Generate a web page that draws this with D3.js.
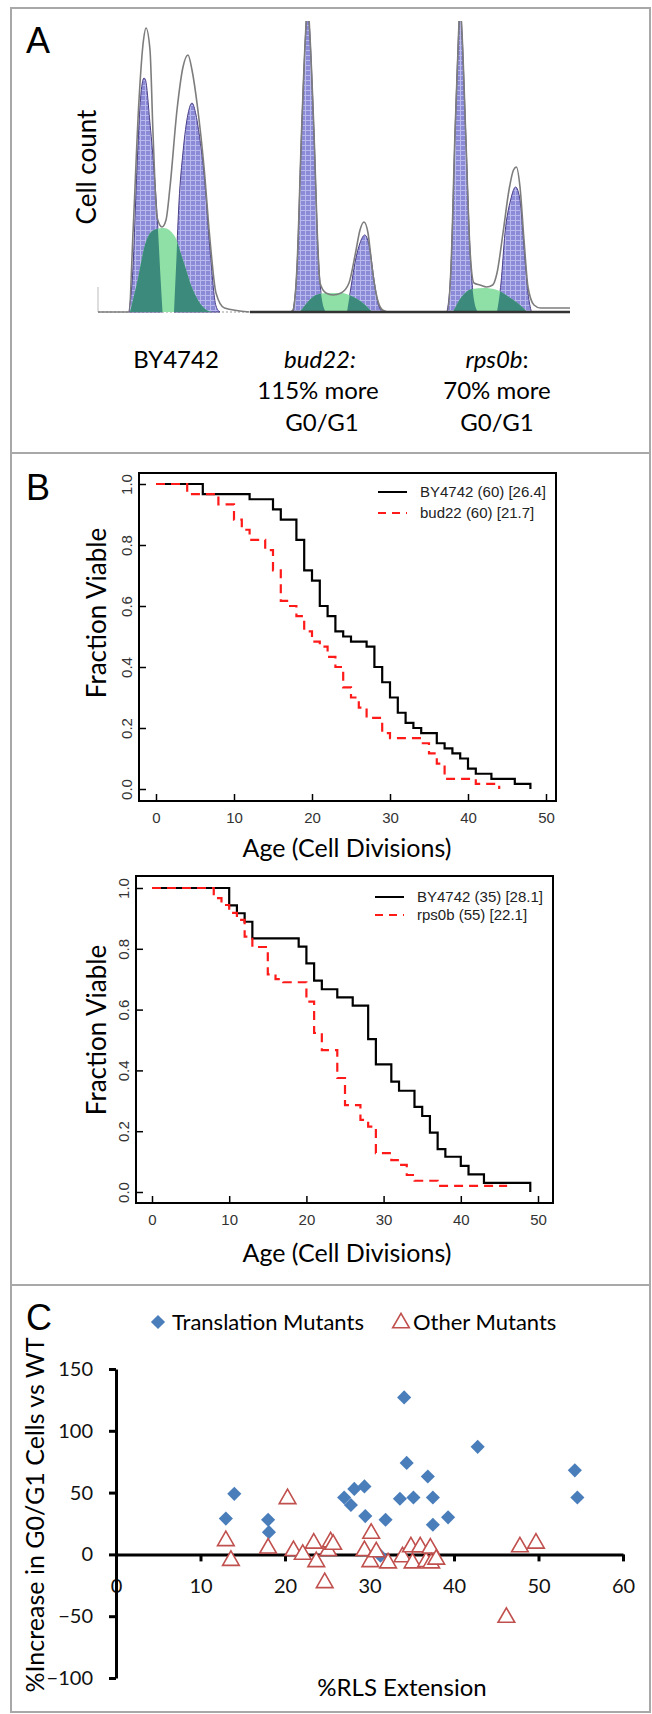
<!DOCTYPE html>
<html>
<head>
<meta charset="utf-8">
<script src="https://cdn.jsdelivr.net/npm/d3@7"></script>
<style>
  body { margin: 0; background: #fff; }
  svg { display: block; }
</style>
</head>
<body>
<svg id="fig" width="652" height="1714"></svg>
<script>
// ---------- Panel A : DNA content histograms (channel, count) ----------
var by4742Envelope = [[0,0],[31,0],[35,79],[41,212],[45.5,272],[48,284],[52,262],[55,179],[59,95],[64,85],[68,92],[72,125],[79,202],[85,245],[90,257],[94,242],[99.5,205],[106,145],[112,72],[118,19],[126.5,4],[151.5,0]];
var by4742G1 = [[31,0],[35,45],[39,145],[43,219],[46,234],[47.5,232],[51.7,192],[55.8,145],[60,82],[62.5,35],[64.5,0]];
var by4742S  = [[32,0],[39,29],[47.5,69],[56,82],[66,84],[76.6,76],[85,52],[95,22],[106,4],[114,0]];
var by4742G2 = [[76,0],[78.5,55],[81,110],[85,160],[90,198],[94,209],[98,197],[102,172],[106,139],[112,62],[118,6],[122,0]];

var bud22Envelope = [[152,0],[192,0],[195,2],[199,45],[203.5,179],[207.6,279],[209.7,310],[211.8,279],[216,179],[220,62],[222,29],[228,19],[235,17],[243,19],[251,29],[257.5,59],[262,82],[266,90],[270,79],[274,45],[278,19],[284.5,2],[291,0],[342,0]];
var bud22G1 = [[195,0],[199,45],[203.5,179],[207.6,279],[209.7,310],[211.8,279],[216,179],[220,62],[224,12],[228,0]];
var bud22S  = [[202,0],[209.7,10],[218,17],[230.5,19],[243,19],[255.4,15],[263.7,10],[274,0]];
var bud22G2 = [[249,0],[253,25],[257.5,52],[262,69],[266.7,77],[272,62],[276,32],[280,9],[284.5,0]];

var rps0bEnvelope = [[342,0],[349,0],[353,45],[357,179],[360.6,279],[362,310],[364,279],[367.7,179],[372,62],[376,29],[382,27],[388.5,25],[394.7,27],[399,39],[405,79],[411,122],[415.5,142],[418.4,145],[422,125],[426,72],[430,25],[436,7],[442.5,4],[472,4]];
var rps0bG1 = [[349,0],[353,45],[357,179],[360.6,279],[362,310],[364,279],[367.7,179],[372,62],[376,12],[380,0]];
var rps0bS  = [[355,0],[363.5,15],[374,23],[386,24],[399,22],[411,15],[422,7],[429,0]];
var rps0bG2 = [[399,0],[403,29],[407,79],[412.6,112],[417.6,125],[422,112],[426,65],[430,19],[433.4,0]];

// ---------- Panel B : survival curves (age, fraction viable) ----------
var bud22PlotWT = [[0,1],[6,0.967],[12,0.95],[15,0.917],[16,0.883],[18,0.817],[19,0.717],[20,0.683],[21,0.6],[22,0.567],[23,0.517],[24,0.5],[25,0.483],[27,0.467],[28,0.4],[29,0.35],[30,0.3],[31,0.25],[32,0.217],[33,0.2],[34,0.183],[36,0.15],[37,0.133],[38,0.117],[39,0.1],[40,0.067],[41,0.05],[43,0.033],[46,0.017],[48,0]];
var bud22PlotMut = [[0,1],[4,0.967],[8,0.933],[10,0.883],[11,0.85],[12,0.817],[14,0.783],[15,0.717],[16,0.617],[17,0.6],[18,0.567],[19,0.517],[20,0.483],[21,0.467],[22,0.433],[23,0.4],[24,0.333],[25,0.3],[26,0.267],[27,0.233],[29,0.183],[30,0.167],[34,0.15],[35,0.117],[36,0.083],[37,0.033],[41,0.017],[44,0]];
var rps0bPlotWT = [[0,1],[10,0.943],[11,0.917],[12,0.889],[13,0.834],[19,0.807],[20,0.752],[21,0.695],[22,0.667],[24,0.64],[26,0.613],[28,0.503],[29,0.42],[31,0.363],[32,0.333],[34,0.28],[35,0.25],[36,0.195],[37,0.141],[38,0.116],[40,0.086],[41,0.058],[43,0.03],[49,0]];
var rps0bPlotMut = [[0,1],[8,0.967],[9,0.944],[10,0.918],[11,0.895],[12,0.84],[13,0.806],[15,0.716],[16,0.7],[17,0.69],[20,0.626],[21,0.523],[22,0.467],[24,0.375],[25,0.286],[27,0.237],[28,0.215],[29,0.128],[31,0.105],[32,0.089],[33,0.056],[34,0.037],[37,0.02],[46,0.02]];
var kmXTicks = [0, 10, 20, 30, 40, 50];
var kmYTicks = [0, 0.2, 0.4, 0.6, 0.8, 1.0];
var bud22Legend = ["BY4742 (60) [26.4]", "bud22 (60) [21.7]"];
var rps0bLegend = ["BY4742 (35) [28.1]", "rps0b (55) [22.1]"];

// ---------- Panel C : scatter (%RLS extension, %increase G0/G1) ----------
var translationMutants = [[13,29],[14,49],[18,28],[18.1,18],[27,46],[27.8,40],[28.2,53],[29.4,55],[29.5,31],[31.3,-1],[31.9,28],[33.6,45],[34.1,127],[34.4,74],[35.2,46],[36.9,63],[37.5,46],[37.5,24],[39.3,30],[42.8,87],[54.3,68],[54.6,46]];
var otherMutants = [[13,11],[13.6,-5],[18,5],[20.3,45],[21,3],[22.1,0],[23.4,9],[23.7,-6],[24.7,-23],[25.1,3],[25.4,10],[25.7,8],[29.4,3],[30.2,17],[30.1,-6],[30.8,2],[32.2,-7],[33.9,-2],[34.9,6],[35.1,-7],[36,6],[36.7,-6],[37.2,5],[37.3,-7],[37.9,-4],[46.2,-51],[47.8,6],[49.7,9]];
var cXTicks = [0, 10, 20, 30, 40, 50, 60];
var cYTicks = [-100, -50, 0, 50, 100, 150];

var svg = d3.select("#fig");
var defs = svg.append("defs");
var sans = "Lato, 'Open Sans', sans-serif";
var arial = "'Liberation Sans', Arial, sans-serif";

// frame
svg.append("rect")
	.attr("x", 11).attr("y", 8).attr("width", 639).attr("height", 1704)
	.attr("fill", "none").attr("stroke", "#a8a8a8").attr("stroke-width", 2);
[453, 1285].forEach(function (y) {
	svg.append("line").attr("x1", 11).attr("x2", 650).attr("y1", y).attr("y2", y)
		.attr("stroke", "#a8a8a8").attr("stroke-width", 2);
});

function panelLetter(t, y) {
	svg.append("text").attr("x", 26).attr("y", y).text(t)
		.style("font-family", arial).style("font-size", "36px");
}

////////////////////////// Panel A
drawPanelA();
function drawPanelA() {
	panelLetter("A", 53);

	var xA = d3.scaleLinear().domain([0, 472]).range([98, 570]);
	var yA = d3.scaleLinear().domain([0, 290]).range([312, 22]);

	var area = d3.area().curve(d3.curveMonotoneX)
		.x(function (d) { return xA(d[0]); })
		.y0(yA(0))
		.y1(function (d) { return yA(d[1]); });
	var line = d3.line().curve(d3.curveMonotoneX)
		.x(function (d) { return xA(d[0]); })
		.y(function (d) { return yA(d[1]); });

	defs.append("clipPath").attr("id", "clipA")
		.append("rect").attr("x", 90).attr("y", 21).attr("width", 490).attr("height", 300);

	var pat = defs.append("pattern").attr("id", "blueGrid")
		.attr("patternUnits", "userSpaceOnUse").attr("width", 5).attr("height", 5);
	pat.append("rect").attr("width", 5).attr("height", 5).attr("fill", "#8a8ad6");
	pat.append("path").attr("d", "M0,0.5H5M0.5,0V5")
		.attr("stroke", "#b9b9ee").attr("stroke-width", 1);

	var samples = [
		{id: "by", env: by4742Envelope, g1: by4742G1, s: by4742S, g2: by4742G2},
		{id: "bud", env: bud22Envelope, g1: bud22G1, s: bud22S, g2: bud22G2},
		{id: "rps", env: rps0bEnvelope, g1: rps0bG1, s: rps0bS, g2: rps0bG2}
	];

	// baselines
	svg.append("line").attr("x1", xA(0)).attr("x2", xA(152)).attr("y1", yA(0)).attr("y2", yA(0))
		.attr("stroke", "#999").attr("stroke-width", 1).attr("stroke-dasharray", "2,2");
	svg.append("line").attr("x1", xA(0)).attr("x2", xA(0)).attr("y1", yA(0)).attr("y2", yA(0) - 25)
		.attr("stroke", "#bbb").attr("stroke-width", 1);

	var gA = svg.append("g").attr("clip-path", "url(#clipA)");

	samples.forEach(function (s) {
		var clip = defs.append("clipPath").attr("id", "blue-" + s.id);
		clip.append("path").attr("d", area(s.g1));
		clip.append("path").attr("d", area(s.g2));

		var g = gA.append("g");
		[s.g1, s.g2].forEach(function (pk) {
			g.append("path").attr("d", area(pk))
				.attr("fill", "url(#blueGrid)")
				.attr("stroke", "#4a3f86").attr("stroke-width", 1);
		});
		g.append("path").attr("d", area(s.s)).attr("fill", "#8fe0a6");
		g.append("path").attr("d", area(s.s)).attr("fill", "#3c8a7b")
			.attr("clip-path", "url(#blue-" + s.id + ")");
		g.append("path").attr("d", line(s.env))
			.attr("fill", "none").attr("stroke", "#7d7d7d").attr("stroke-width", 1.6);
	});

	svg.append("line").attr("x1", xA(152)).attr("x2", xA(472)).attr("y1", yA(0)).attr("y2", yA(0))
		.attr("stroke", "#333").attr("stroke-width", 2.5);

	svg.append("text")
		.attr("transform", "translate(87,167) rotate(-90)")
		.attr("text-anchor", "middle").attr("dy", "0.35em")
		.style("font-family", sans).style("font-size", "26px")
		.text("Cell count");

	var labs = svg.append("g").attr("text-anchor", "middle")
		.style("font-family", sans).style("font-size", "24px");
	labs.append("text").attr("x", 176).attr("y", 368).text("BY4742");
	labs.append("text").attr("x", 320).attr("y", 368).style("font-style", "italic").text("bud22:");
	labs.append("text").attr("x", 318).attr("y", 399).text("115% more");
	labs.append("text").attr("x", 322).attr("y", 431).text("G0/G1");
	var r = labs.append("text").attr("x", 497).attr("y", 368);
	r.append("tspan").style("font-style", "italic").text("rps0b");
	r.append("tspan").text(":");
	labs.append("text").attr("x", 497).attr("y", 399).text("70% more");
	labs.append("text").attr("x", 497).attr("y", 431).text("G0/G1");
}

////////////////////////// Panel B
panelLetter("B", 500);
drawKM({box: [139, 556, 473, 801], xr: [156, 546], yr: [789, 484],
	wt: bud22PlotWT, mut: bud22PlotMut, legend: bud22Legend,
	leg: {x: 378, y1: 492, y2: 513}, ylabY: 613, xlabY: 848});
drawKM({box: [136, 553, 876, 1203], xr: [152, 538], yr: [1192, 888],
	wt: rps0bPlotWT, mut: rps0bPlotMut, legend: rps0bLegend,
	leg: {x: 375, y1: 897, y2: 915}, ylabY: 1030, xlabY: 1253});

function drawKM(cfg) {
	var x = d3.scaleLinear().domain([0, 50]).range(cfg.xr);
	var y = d3.scaleLinear().domain([0, 1]).range(cfg.yr);
	var b = cfg.box;
	var g = svg.append("g");

	var line = d3.line().curve(d3.curveStepAfter)
		.x(function (d) { return x(d[0]); })
		.y(function (d) { return y(d[1]); });

	g.append("path").attr("d", line(cfg.wt))
		.attr("fill", "none").attr("stroke", "#000").attr("stroke-width", 2.2);
	g.append("path").attr("d", line(cfg.mut))
		.attr("fill", "none").attr("stroke", "#ff1a1a").attr("stroke-width", 2.2)
		.attr("stroke-dasharray", "9,6");

	g.append("rect").attr("x", b[0]).attr("y", b[2])
		.attr("width", b[1] - b[0]).attr("height", b[3] - b[2])
		.attr("fill", "none").attr("stroke", "#000").attr("stroke-width", 2);

	var ax = g.append("g").attr("transform", "translate(0," + b[3] + ")")
		.call(d3.axisBottom(x).tickValues(kmXTicks).tickSize(-7).tickPadding(11));
	ax.select(".domain").remove();
	ax.selectAll(".tick line").attr("stroke-width", 1.5);
	ax.selectAll(".tick text").style("font-family", arial).style("font-size", "15px").attr("fill", "#333");

	var ay = g.append("g").attr("transform", "translate(" + b[0] + ",0)")
		.call(d3.axisLeft(y).tickValues(kmYTicks).tickSize(-7).tickFormat(d3.format(".1f")));
	ay.select(".domain").remove();
	ay.selectAll(".tick line").attr("stroke-width", 1.5);
	ay.selectAll(".tick text")
		.attr("transform", "rotate(-90)").attr("x", 0).attr("y", -7).attr("dy", 0)
		.attr("text-anchor", "middle")
		.style("font-family", arial).style("font-size", "15px").attr("fill", "#333");

	// legend
	var lg = g.append("g").style("font-family", arial).style("font-size", "15px");
	lg.append("line").attr("x1", cfg.leg.x).attr("x2", cfg.leg.x + 29)
		.attr("y1", cfg.leg.y1).attr("y2", cfg.leg.y1).attr("stroke", "#000").attr("stroke-width", 2);
	lg.append("line").attr("x1", cfg.leg.x).attr("x2", cfg.leg.x + 29)
		.attr("y1", cfg.leg.y2).attr("y2", cfg.leg.y2).attr("stroke", "#ff1a1a").attr("stroke-width", 2)
		.attr("stroke-dasharray", "8,6");
	lg.append("text").attr("x", cfg.leg.x + 42).attr("y", cfg.leg.y1).attr("dy", "0.36em").attr("fill", "#222").text(cfg.legend[0]);
	lg.append("text").attr("x", cfg.leg.x + 42).attr("y", cfg.leg.y2).attr("dy", "0.36em").attr("fill", "#222").text(cfg.legend[1]);

	svg.append("text")
		.attr("transform", "translate(97," + cfg.ylabY + ") rotate(-90)")
		.attr("text-anchor", "middle").attr("dy", "0.35em")
		.style("font-family", sans).style("font-size", "26px")
		.text("Fraction Viable");
	svg.append("text").attr("x", 347).attr("y", cfg.xlabY).attr("dy", "0.35em")
		.attr("text-anchor", "middle")
		.style("font-family", sans).style("font-size", "25px")
		.text("Age (Cell Divisions)");
}

////////////////////////// Panel C
drawPanelC();
function drawPanelC() {
	panelLetter("C", 1330);

	var x = d3.scaleLinear().domain([0, 60]).range([116, 623]);
	var y = d3.scaleLinear().domain([-100, 150]).range([1678, 1369]);
	var g = svg.append("g");

	var ax = g.append("g").attr("transform", "translate(0," + y(0) + ")")
		.call(d3.axisBottom(x).tickValues(cXTicks).tickSize(7).tickSizeOuter(0).tickPadding(17));
	var ay = g.append("g").attr("transform", "translate(" + x(0) + ",0)")
		.call(d3.axisLeft(y).tickValues(cYTicks).tickSize(7).tickSizeOuter(0).tickPadding(16));
	[ax, ay].forEach(function (a) {
		a.select(".domain").attr("stroke-width", 3);
		a.selectAll(".tick line").attr("stroke-width", 3);
		a.selectAll(".tick text").style("font-family", sans).style("font-size", "20px").attr("fill", "#111");
	});

	var diamond = d3.symbol(d3.symbolSquare, 100);
	var tri = d3.symbol(d3.symbolTriangle, 120);

	g.selectAll(".tm").data(translationMutants).join("path")
		.attr("class", "tm")
		.attr("d", diamond)
		.attr("transform", function (d) { return "translate(" + x(d[0]) + "," + y(d[1]) + ") rotate(45)"; })
		.attr("fill", "#4a7ebb");

	g.selectAll(".om").data(otherMutants).join("path")
		.attr("class", "om")
		.attr("d", tri)
		.attr("transform", function (d) { return "translate(" + x(d[0]) + "," + y(d[1]) + ")"; })
		.attr("fill", "#fff").attr("stroke", "#c0504d").attr("stroke-width", 1.6);

	// legend
	var lg = svg.append("g").style("font-family", sans).style("font-size", "22px");
	lg.append("path").attr("d", diamond).attr("transform", "translate(158,1322) rotate(45)").attr("fill", "#4a7ebb");
	lg.append("text").attr("x", 172).attr("y", 1322).attr("dy", "0.35em").text("Translation Mutants");
	lg.append("path").attr("d", tri).attr("transform", "translate(401,1323)")
		.attr("fill", "#fff").attr("stroke", "#c0504d").attr("stroke-width", 1.6);
	lg.append("text").attr("x", 413).attr("y", 1322).attr("dy", "0.35em").text("Other Mutants");

	svg.append("text")
		.attr("transform", "translate(35,1515) rotate(-90)")
		.attr("text-anchor", "middle").attr("dy", "0.35em")
		.style("font-family", sans).style("font-size", "25px")
		.text("%Increase in G0/G1 Cells vs WT");
	svg.append("text").attr("x", 402).attr("y", 1688).attr("dy", "0.35em")
		.attr("text-anchor", "middle")
		.style("font-family", sans).style("font-size", "24px")
		.text("%RLS Extension");
}
</script>
</body>
</html>
